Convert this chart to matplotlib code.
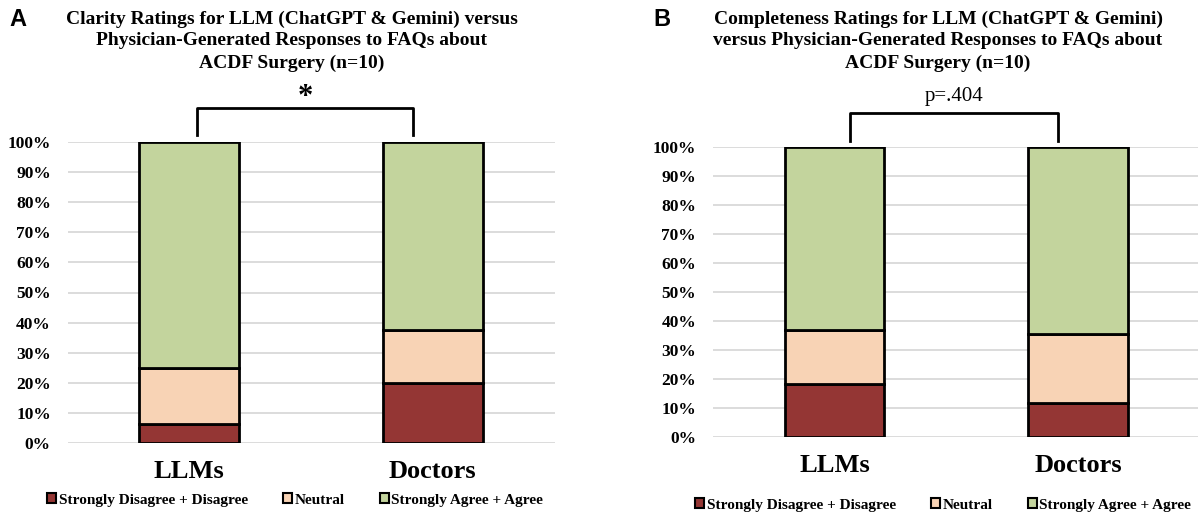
import matplotlib
matplotlib.use("Agg")
import matplotlib.pyplot as plt
from matplotlib.patches import Patch
from matplotlib.lines import Line2D

categories = ["LLMs", "Doctors"]
series_names = ["Strongly Disagree + Disagree", "Neutral", "Strongly Agree + Agree"]
clarity_disagree = [6.25, 20.0]
clarity_neutral = [18.75, 17.5]
clarity_agree = [75.0, 62.5]
complete_disagree = [18.3, 11.7]
complete_neutral = [18.7, 23.8]
complete_agree = [63.0, 64.5]
yticks = [0, 10, 20, 30, 40, 50, 60, 70, 80, 90, 100]
ytick_labels = [f"{v}%" for v in yticks]
title_a = "Clarity Ratings for LLM (ChatGPT & Gemini) versus\nPhysician-Generated Responses to FAQs about\nACDF Surgery (n=10)"
title_b = "Completeness Ratings for LLM (ChatGPT & Gemini)\nversus Physician-Generated Responses to FAQs about\nACDF Surgery (n=10)"
sig_a = "*"
sig_b = "p=.404"

colors = ["#943634", "#F8D3B5", "#C3D49D"]
SERIF = "Liberation Serif"

W, H = 1198, 514
fig = plt.figure(figsize=(W / 100, H / 100), dpi=100)

def px(x, y):
    return x / W, 1 - y / H

def draw_panel(rect, series, legend_y, legend_x):
    ax = fig.add_axes(rect)
    xs = list(range(len(categories)))
    bottom = [0.0] * len(categories)
    for vals, c in zip(series, colors):
        ax.bar(xs, vals, bottom=bottom, width=0.41, color=c,
               edgecolor="black", linewidth=2, zorder=3)
        bottom = [b + v for b, v in zip(bottom, vals)]
    ax.set_xlim(-0.5, len(categories) - 0.5)
    ax.set_ylim(0, 100)
    ax.set_yticks(yticks)
    ax.set_yticklabels(ytick_labels, fontfamily=SERIF, fontweight="bold", fontsize=12.5)
    ax.yaxis.grid(True, color="#D9D9D9", linewidth=1.3, zorder=0)
    ax.set_xticks(xs)
    ax.set_xticklabels(categories, fontfamily=SERIF, fontweight="bold", fontsize=19)
    ax.tick_params(axis="both", length=0)
    ax.tick_params(axis="y", pad=12)
    ax.tick_params(axis="x", pad=12)
    for s in ax.spines.values():
        s.set_visible(False)
    handles = [Patch(facecolor=c, edgecolor="black", linewidth=1.5) for c in colors]
    fig.legend(handles, series_names, loc="center", bbox_to_anchor=(legend_x, legend_y),
               ncol=3, frameon=False, handlelength=0.6, handleheight=0.6,
               handletextpad=0.15, columnspacing=2.3,
               prop={"family": SERIF, "weight": "bold", "size": 11})
    return ax

ax_a = draw_panel([67.5 / W, (H - 443) / H, 487 / W, 301 / H],
                  [clarity_disagree, clarity_neutral, clarity_agree],
                  1 - 500 / H, 295 / W)
ax_b = draw_panel([712.7 / W, (H - 437.3) / H, 487 / W, 290.6 / H],
                  [complete_disagree, complete_neutral, complete_agree],
                  1 - 505 / H, 943 / W)

# titles
fig.text(*px(292, 41), title_a, ha="center", va="center", fontfamily=SERIF,
         fontweight="bold", fontsize=14, linespacing=1.38)
fig.text(*px(938, 41), title_b, ha="center", va="center", fontfamily=SERIF,
         fontweight="bold", fontsize=14, linespacing=1.38)
fig.text(*px(18, 20), "A", ha="center", va="center", fontfamily="Liberation Sans",
         fontweight="bold", fontsize=17)
fig.text(*px(662, 20), "B", ha="center", va="center", fontfamily="Liberation Sans",
         fontweight="bold", fontsize=17)

# brackets
def bracket(x0, x1, ytop, ybot, label, ylab, size, weight):
    xa, yt = px(x0, ytop)
    xb, yb = px(x1, ybot)
    fig.add_artist(Line2D([xa, xa, xb, xb], [yb, yt, yt, yb], color="black",
                          linewidth=2, transform=fig.transFigure,
                          solid_joinstyle="round"))
    fig.text((xa + xb) / 2, 1 - ylab / H, label, ha="center", va="center",
             fontfamily=SERIF, fontweight=weight, fontsize=size)

bracket(197, 413, 108, 135, sig_a, 97, 22, "bold")
bracket(850, 1058, 113, 141, sig_b, 96, 15, "normal")

fig.savefig("out.png", dpi=100, facecolor="white")
